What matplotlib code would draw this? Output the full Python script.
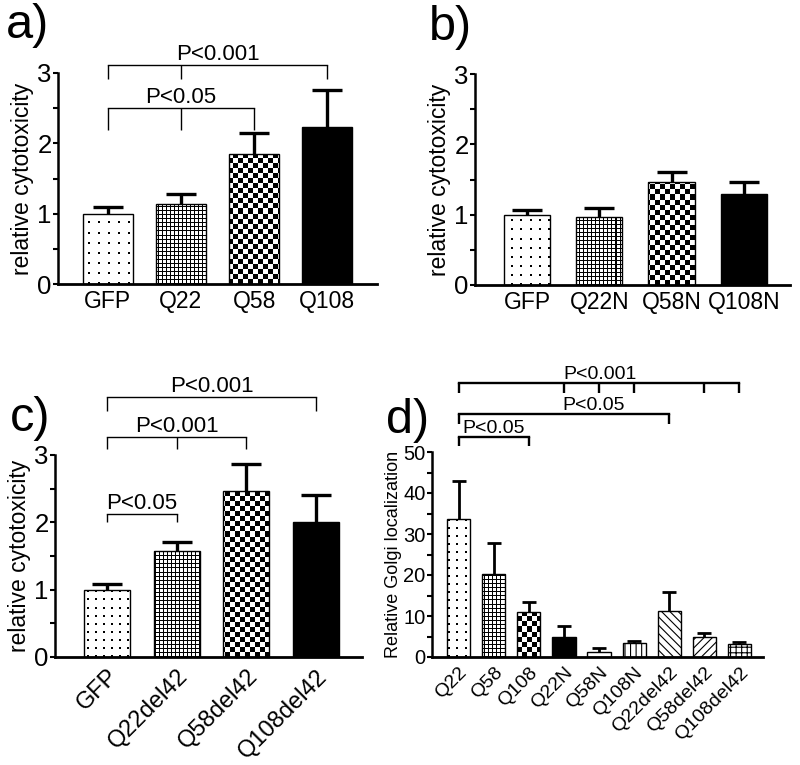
import numpy as np
import matplotlib
matplotlib.use('Agg')
import matplotlib.pyplot as plt
from matplotlib.ticker import MultipleLocator

plt.rcParams['font.family'] = 'Liberation Sans'
plt.rcParams['hatch.linewidth'] = 0.8

W, H = 800, 765

# panel a
a_labels = ['GFP', 'Q22', 'Q58', 'Q108']
a_values = [1.0, 1.14, 1.85, 2.23]
a_errors = [0.09, 0.14, 0.30, 0.53]

# panel b
b_labels = ['GFP', 'Q22N', 'Q58N', 'Q108N']
b_values = [1.0, 0.96, 1.47, 1.30]
b_errors = [0.07, 0.14, 0.13, 0.16]

# panel c
c_labels = ['GFP', 'Q22del42', 'Q58del42', 'Q108del42']
c_values = [1.0, 1.58, 2.47, 2.01]
c_errors = [0.09, 0.13, 0.40, 0.39]

# panel d
d_labels = ['Q22', 'Q58', 'Q108', 'Q22N', 'Q58N', 'Q108N',
            'Q22del42', 'Q58del42', 'Q108del42']
d_values = [33.6, 20.3, 11.0, 4.8, 1.1, 3.3, 11.1, 4.8, 3.1]
d_errors = [9.3, 7.4, 2.3, 2.8, 1.2, 0.6, 4.8, 1.0, 0.5]

# fill style per bar
abc_fills = ['dots', 'grid', 'checker', 'black']
d_fills = ['dots', 'grid', 'checker', 'black', 'white',
           '|||', '\\\\\\\\', '////', '+++']

# significance brackets: (bar indices, line y, tick bottom, text, text x)
a_sig = [([0, 1, 3], 3.12, 2.92, 'P<0.001', None),
         ([0, 1, 2], 2.50, 2.19, 'P<0.05', None)]
c_sig = [([0, 3], 3.86, 3.66, 'P<0.001', None),
         ([0, 1, 2], 3.26, 3.09, 'P<0.001', None),
         ([0, 1], 2.12, 2.00, 'P<0.05', None)]
d_sig = [([0, 3, 4, 5, 7, 8], 66.8, 64.4, 'P<0.001', 4.04),
         ([0, 6], 59.3, 56.8, 'P<0.05', 3.84),
         ([0, 2], 53.7, 51.5, 'P<0.05', 1.0)]


def texture(kind, h, w, period):
    yy, xx = np.mgrid[0:h, 0:w]
    if kind == 'dots':
        ink = (xx % period < 2) & (yy % period < 2)
    elif kind == 'grid':
        ink = (xx % 4 == 0) | (yy % 4 == 0)
    else:
        ink = (xx // 5 + yy // 5) % 2 == 0
    return np.where(ink, 0.0, 1.0)


def add_axes(fig, box):
    l, b, w, h = box
    return fig.add_axes([l / W, b / H, w / W, h / H])


def bar_panel(ax, box, labels, values, errors, fills, xlim, ylim,
              width, dot_period, cap, elw):
    x = np.arange(len(labels))
    values = np.array(values)
    errors = np.array(errors)
    ax.set_xlim(*xlim)
    ax.set_ylim(*ylim)

    bars = ax.bar(x, values, width=width, edgecolor='black', linewidth=1.0,
                  facecolor='white', zorder=2)
    for bar, fill in zip(bars, fills):
        if fill == 'black':
            bar.set_facecolor('black')
        elif fill in ('dots', 'grid', 'checker'):
            # pixel texture under the (transparent) bar, clipped to its shape
            bar.set_facecolor('none')
            tex = texture(fill, box[3], box[2], dot_period)
            im = ax.imshow(tex, cmap='gray', vmin=0, vmax=1, origin='lower',
                           extent=(*xlim, *ylim), aspect='auto',
                           interpolation='nearest', zorder=1)
            im.set_clip_path(bar)
        elif fill != 'white':
            bar.set_hatch(fill)

    # upper error only, cap drawn as a marker
    ax.errorbar(x, values, yerr=[np.zeros(len(x)), errors], fmt='none',
                ecolor='black', elinewidth=elw, capsize=0, zorder=3)
    ax.plot(x, values + errors, ls='none', marker='_', ms=cap, mew=elw,
            color='black', zorder=3)

    ax.set_xticks(x)
    ax.spines['top'].set_visible(False)
    ax.spines['right'].set_visible(False)
    ax.spines['left'].set_linewidth(1.8)
    ax.spines['bottom'].set_linewidth(2.0)
    ax.tick_params(axis='x', length=0)
    ax.tick_params(axis='y', which='both', length=3.6, width=1.5, pad=1)
    return x


def brackets(ax, specs, fontsize, lw):
    for idx, y, ybot, text, tx in specs:
        ax.plot([idx[0], idx[-1]], [y, y], color='black', lw=lw, clip_on=False)
        ax.vlines(idx, ybot, y, color='black', lw=lw, clip_on=False)
        if tx is None:
            tx = (idx[0] + idx[-1]) / 2
        ax.text(tx, y, text, ha='center', va='bottom', fontsize=fontsize,
                clip_on=False)


fig = plt.figure(figsize=(W / 100, H / 100), dpi=100)

# a)
box = (58, 481, 319, 211)
ax = add_axes(fig, box)
bar_panel(ax, box, a_labels, a_values, a_errors, abc_fills, (-0.68, 3.68),
          (0, 3), 0.68, 10, 21, 2.4)
ax.set_xticklabels(a_labels, fontsize=16.5)
ax.tick_params(axis='x', pad=4)
ax.yaxis.set_major_locator(MultipleLocator(1))
ax.yaxis.set_minor_locator(MultipleLocator(0.5))
ax.tick_params(axis='y', labelsize=18.5)
ax.set_ylabel('relative cytotoxicity', fontsize=16.5, labelpad=2)
brackets(ax, a_sig, 16, 1.0)

# b)
box = (475, 480, 315, 211)
ax = add_axes(fig, box)
bar_panel(ax, box, b_labels, b_values, b_errors, abc_fills, (-0.72, 3.64),
          (0, 3), 0.64, 9, 21, 2.4)
ax.set_xticklabels(b_labels, fontsize=16.5)
ax.tick_params(axis='x', pad=4)
ax.yaxis.set_major_locator(MultipleLocator(1))
ax.yaxis.set_minor_locator(MultipleLocator(0.5))
ax.tick_params(axis='y', labelsize=18.5)
ax.set_ylabel('relative cytotoxicity', fontsize=16.5, labelpad=2)

# c)
box = (55, 108, 307, 202)
ax = add_axes(fig, box)
bar_panel(ax, box, c_labels, c_values, c_errors, abc_fills, (-0.75, 3.66),
          (0, 3), 0.66, 8, 21, 2.4)
ax.set_xticklabels(c_labels, fontsize=17, rotation=45, ha='right',
                   va='top', rotation_mode='anchor')
ax.tick_params(axis='x', pad=6)
ax.yaxis.set_major_locator(MultipleLocator(1))
ax.yaxis.set_minor_locator(MultipleLocator(0.5))
ax.tick_params(axis='y', labelsize=18.5)
ax.set_ylabel('relative cytotoxicity', fontsize=16.5, labelpad=2)
brackets(ax, c_sig, 16, 1.0)

# d)
box = (432, 108, 331, 205)
ax = add_axes(fig, box)
bar_panel(ax, box, d_labels, d_values, d_errors, d_fills, (-0.76, 8.67),
          (0, 50), 0.66, 8, 10, 2.0)
ax.set_xticklabels(d_labels, fontsize=14, rotation=45, ha='right',
                   va='top', rotation_mode='anchor')
ax.tick_params(axis='x', pad=5)
ax.yaxis.set_major_locator(MultipleLocator(10))
ax.yaxis.set_minor_locator(MultipleLocator(5))
ax.tick_params(axis='y', labelsize=14.5)
ax.set_ylabel('Relative Golgi localization', fontsize=13, labelpad=1)
brackets(ax, d_sig, 14, 1.7)

# panel letters
for letter, px, py in [('a)', 6, 3), ('b)', 429, 5), ('c)', 10, 396), ('d)', 386, 398)]:
    fig.text(px / W, 1 - py / H, letter, fontsize=35, ha='left', va='top')

fig.savefig('out.png', dpi=100)
